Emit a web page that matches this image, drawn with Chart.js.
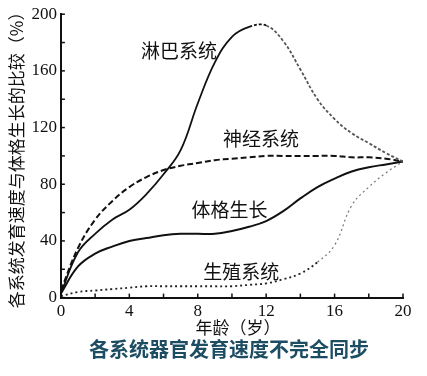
<!DOCTYPE html>
<html><head><meta charset="utf-8">
<script src="https://cdn.jsdelivr.net/npm/chart.js@4/dist/chart.umd.min.js"></script>
<style>html,body{margin:0;padding:0;background:#fff}#wrap{width:427px;height:376px}</style>
</head><body><div id="wrap"><canvas id="c"></canvas></div>
<script>
const ages = [0,1,2,3,4,5,6,7,8,9,10,11,12,13,14,15,16,17,18,19,20];
const lymph  = [3,32,45,55,62,73,87,104,137,166,184,191,192,181,161,140,126,116,109,102,96];
const neural = [5,35,55,68,78,85,90,93,95,97,98,99,100,100,100,100,100,99,99,98,96];
const body   = [3,22,31,36,40,42,44,45,45,45,47,50,54,61,70,78,84,89,92,94,96];
const repro  = [1,4,5,6,7,8,8,8,8,8,8,9,10,13,17,25,37,65,78,88,96];
const xTicks = [0,4,8,12,16,20];
const yTicks = [0,40,80,120,160,200];
const curveLabels = [
  {text:'淋巴系统', x:6.9, y:174},
  {text:'神经系统', x:11.7, y:112},
  {text:'体格生长', x:9.85, y:62},
  {text:'生殖系统', x:10.55, y:18}
];
const yTitle = '各系统发育速度与体格生长的比较（%）';
const xTitle = '年龄（岁）';
const caption = '各系统器官发育速度不完全同步';

const pts = arr => ages.map((a,i)=>({x:a,y:arr[i]}));
const CJK = '"Noto Sans CJK SC", sans-serif';
const SERIF = '"Liberation Serif", "DejaVu Serif", serif';

const decor = {
  id:'decor',
  afterDraw(chart){
    const ctx = chart.ctx, xs = chart.scales.x, ys = chart.scales.y;
    const x0 = xs.getPixelForValue(0), y0 = ys.getPixelForValue(0);
    ctx.save();
    ctx.strokeStyle = '#111'; ctx.lineWidth = 1.5;
    for(let v=0; v<=20; v+=2){
      const px = xs.getPixelForValue(v);
      ctx.beginPath(); ctx.moveTo(px, y0); ctx.lineTo(px, y0-4); ctx.stroke();
    }
    for(let v=0; v<=200; v+=20){
      const py = ys.getPixelForValue(v);
      ctx.beginPath(); ctx.moveTo(x0, py); ctx.lineTo(x0+4, py); ctx.stroke();
    }
    ctx.fillStyle = '#111';
    ctx.font = '19px ' + CJK;
    ctx.textAlign = 'center'; ctx.textBaseline = 'middle';
    curveLabels.forEach(l => ctx.fillText(l.text, xs.getPixelForValue(l.x), ys.getPixelForValue(l.y)));
    const cx = (xs.left + xs.right) / 2;
    ctx.font = '17px ' + CJK;
    ctx.fillText(xTitle, cx + 6, 328);
    ctx.fillStyle = '#1d4d63';
    ctx.font = 'bold 20px ' + CJK;
    ctx.fillText(caption, cx - 3, 349);
    ctx.restore();
  }
};

new Chart(document.getElementById('c'), {
  type:'line',
  data:{datasets:[
    {label:'淋巴系统', data:pts(lymph), borderColor:'#111', borderWidth:1.8, pointRadius:0, tension:0.4,
     segment:{borderDash: c => c.p0.parsed.x >= 11 ? [3,2] : undefined, borderColor: c => c.p0.parsed.x >= 12 ? '#555' : '#111'}},
    {label:'神经系统', data:pts(neural), borderColor:'#111', borderWidth:2, borderDash:[6,3], pointRadius:0, tension:0.4},
    {label:'体格生长', data:pts(body), borderColor:'#111', borderWidth:2, pointRadius:0, tension:0.4},
    {label:'生殖系统', data:pts(repro), borderColor:'#222', borderWidth:1.8, borderDash:[2,3], pointRadius:0, tension:0.4,
     segment:{borderColor: c => c.p0.parsed.x >= 15 ? '#777' : '#222', borderWidth: c => c.p0.parsed.x >= 15 ? 1.2 : 1.8}}
  ]},
  options:{
    responsive:true, maintainAspectRatio:false, animation:false,
    layout:{padding:{left:6, right:24, top:14, bottom:50}},
    plugins:{ legend:{display:false}, tooltip:{enabled:false} },
    scales:{
      x:{type:'linear', min:0, max:20,
        afterBuildTicks: s => { s.ticks = xTicks.map(v=>({value:v})); },
        grid:{display:false, drawTicks:false},
        border:{display:true, color:'#111', width:2},
        ticks:{color:'#111', font:{family:SERIF, size:17}, padding:4, maxRotation:0}
      },
      y:{min:0, max:200,
        afterBuildTicks: s => { s.ticks = yTicks.map(v=>({value:v})); },
        grid:{display:false, drawTicks:false},
        border:{display:true, color:'#111', width:2},
        ticks:{color:'#111', font:{family:SERIF, size:17}, padding:4},
        title:{display:true, text:yTitle, color:'#111', font:{family:CJK, size:17}, padding:{top:0, bottom:1}}
      }
    }
  },
  plugins:[decor]
});
</script></body></html>
